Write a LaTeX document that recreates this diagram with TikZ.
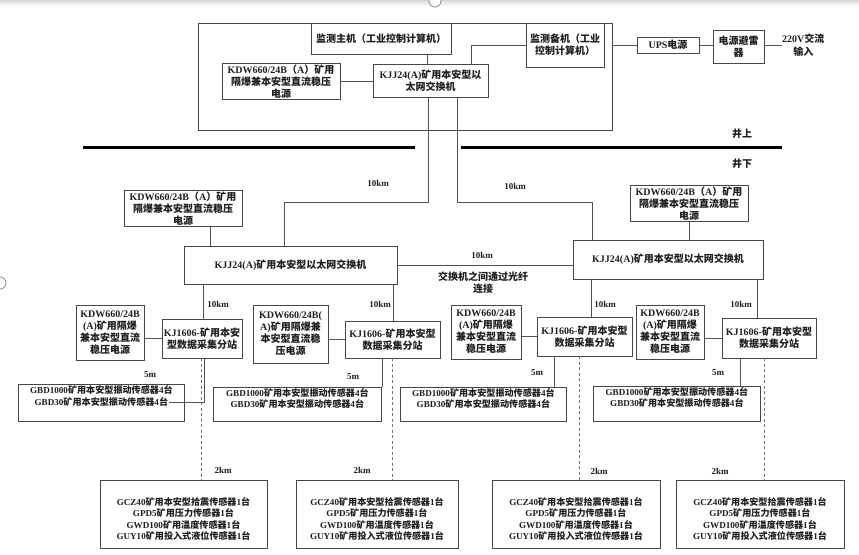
\documentclass[tikz,border=0pt]{standalone}
\usepackage{fontspec}
\setmainfont{Liberation Serif}
\newfontfamily\cjkfont{Noto Sans CJK SC}
\def\latsel{\rmfamily}
\def\cjksel{\cjkfont}
\XeTeXinterchartokenstate=1
\newXeTeXintercharclass\CJKcls
\makeatletter
\count@="3000
\loop\ifnum\count@<"3040 \XeTeXcharclass\count@=\CJKcls \advance\count@ 1 \repeat
\count@="4E00
\loop\ifnum\count@<"A000 \XeTeXcharclass\count@=\CJKcls \advance\count@ 1 \repeat
\count@="FF00
\loop\ifnum\count@<"FFF0 \XeTeXcharclass\count@=\CJKcls \advance\count@ 1 \repeat
\makeatother
\XeTeXinterchartoks 0 \CJKcls = {\cjksel}
\XeTeXinterchartoks 4095 \CJKcls = {\cjksel}
\XeTeXinterchartoks \CJKcls 0 = {\latsel}
\XeTeXinterchartoks 4095 0 = {\latsel}
\tikzset{
  box/.style={draw=black!72, line width=0.8pt, fill=white, inner sep=1pt, align=center,
    font=\fontsize{10}{12}\selectfont\bfseries, text=black!88},
  plainbox/.style={draw=black!72, line width=0.8pt, fill=white, inner sep=0pt},
  btxt/.style={inner sep=0pt, align=center, text=black!88,
    font=\fontsize{9.1}{11.6}\selectfont\bfseries},
  lbl/.style={inner sep=0pt, align=center, font=\fontsize{9}{12}\selectfont\bfseries, text=black!88},
  conn/.style={draw=black!68, line width=0.8pt},
  dconn/.style={draw=black!55, line width=0.8pt, dashed, dash pattern=on 3pt off 2.5pt},
  sep/.style={draw=black, line width=3pt},
}
\begin{document}
\begin{tikzpicture}[x=1pt,y=-1pt]
\useasboundingbox (0,0) rectangle (859,554);
\fill[white] (0,0) rectangle (859,554);
% screenshot edge and handles
\shade[top color=black!16, bottom color=white] (0,0) rectangle (859,6);
\draw[black!45, line width=0.8pt, fill=white] (435,1) circle (6);
\draw[black!45, line width=0.8pt, fill=white] (0,283) circle (6);

% ---- surface ----
\node[plainbox, minimum width=414, minimum height=107] (frame) at (405,76.5) {};
\node[box, minimum width=140, minimum height=31] (host) at (381,38.5) {监测主机（工业控制计算机）};
\node[box, minimum width=78, minimum height=44] (backup) at (565,45) {监测备机（工业\\控制计算机）};
\node[box, minimum width=118, minimum height=35] (topkdw) at (281,81.5) {KDW660/24B（A）矿用\\隔爆兼本安型直流稳压\\电源};
\node[box, minimum width=115, minimum height=33] (topkjj) at (430.5,80.5) {KJJ24(A)矿用本安型以\\太网交换机};
\node[box, minimum width=62, minimum height=16] (ups) at (668,45) {UPS电源};
\node[box, minimum width=51, minimum height=33] (spd) at (738.5,46.5) {电源避雷\\器};
\node[lbl, font=\fontsize{10}{13}\selectfont\bfseries, anchor=west] (acin) at (782,45) {220V交流\\输入};

\draw[conn] (host.south -| 427,0) -- (topkjj.north -| 427,0);
\draw[conn] (topkdw.east) -- (topkdw.east -| topkjj.west);
\draw[conn] (topkjj.north -| 471,0) |- (backup.west);
\draw[conn] (frame.east |- ups.west) -- (ups.west);
\draw[conn] (ups.east) -- (ups.east -| spd.west);
\draw[conn] (spd.east |- acin.west) -- (acin.west);

% ground line
\draw[sep] (83,147) -- (415,147);
\draw[sep] (461,147) -- (782,147);
\node[lbl, font=\fontsize{10}{12}\selectfont\bfseries] (up) at (742,134) {井上};
\node[lbl, font=\fontsize{10}{12}\selectfont\bfseries] (down) at (742,164) {井下};

% ---- underground switches ----
\node[box, minimum width=118, minimum height=35] (kdwL) at (183,208.5) {KDW660/24B（A）矿用\\隔爆兼本安型直流稳压\\电源};
\node[box, minimum width=213, minimum height=38] (kjjL) at (290.5,265) {KJJ24(A)矿用本安型以太网交换机};
\node[box, minimum width=118, minimum height=35] (kdwR) at (689,203.5) {KDW660/24B（A）矿用\\隔爆兼本安型直流稳压\\电源};
\node[box, minimum width=190, minimum height=39] (kjjR) at (668,259.5) {KJJ24(A)矿用本安型以太网交换机};

\coordinate (bL) at (284,202);
\coordinate (bR) at (592,202);
\draw[conn] (topkjj.south -| 428,0) |- (bL) -- (kjjL.north -| bL);
\draw[conn] (topkjj.south -| 457,0) |- (bR) -- (kjjR.north -| bR);
\draw[conn] (kdwL.south -| 210,0) -- (kjjL.north -| 210,0);
\draw[conn] (kdwR.south) -- (kdwR.south |- kjjR.north);
\draw[conn] (kjjL.east) -- (kjjL.east -| kjjR.west);

\node[lbl] (l1) at (378,183) {10km};
\node[lbl] (l2) at (515,186) {10km};
\node[lbl] (l3) at (482,255) {10km};
\node[lbl, font=\fontsize{10}{12}\selectfont\bfseries] (l4) at (483,283) {交换机之间通过光纤\\连接};

% ---- substations ----
\node[box, minimum width=68, minimum height=55] (kdw1) at (110,332.5) {KDW660/24B\\(A)矿用隔爆\\兼本安型直流\\稳压电源};
\node[box, minimum width=80, minimum height=39] (kj1) at (202,338.5) {KJ1606-矿用本安\\型数据采集分站};
\node[box, minimum width=75, minimum height=58] (kdw2) at (290.5,334) {KDW660/24B(\\A)矿用隔爆兼\\本安型直流稳\\压电源};
\node[box, minimum width=95, minimum height=37] (kj2) at (392.5,339.5) {KJ1606-矿用本安型\\数据采集分站};
\node[box, minimum width=70, minimum height=54] (kdw3) at (486,332) {KDW660/24B\\(A)矿用隔爆\\兼本安型直流\\稳压电源};
\node[box, minimum width=95, minimum height=39] (kj3) at (584.5,336.5) {KJ1606-矿用本安型\\数据采集分站};
\node[box, minimum width=68, minimum height=54] (kdw4) at (670,332) {KDW660/24B\\(A)矿用隔爆\\兼本安型直流\\稳压电源};
\node[box, minimum width=94, minimum height=40] (kj4) at (769,338) {KJ1606-矿用本安型\\数据采集分站};

\draw[conn] (kjjL.south -| 203,0) -- (kj1.north -| 203,0);
\draw[conn] (kjjL.south -| 393,0) -- (kj2.north -| 393,0);
\draw[conn] (kjjR.south -| 591,0) -- (kj3.north -| 591,0);
\draw[conn] (kjjR.south -| 757,0) -- (kj4.north -| 757,0);
\foreach \i in {1,2,3,4} { \draw[conn] (kdw\i.east |- kj\i.west) -- (kj\i.west); }

\node[lbl] (k1) at (218,304) {10km};
\node[lbl] (k2) at (380,304) {10km};
\node[lbl] (k3) at (605,304) {10km};
\node[lbl] (k4) at (741,304) {10km};

% ---- vibration sensors ----
\node[plainbox, minimum width=166, minimum height=37, anchor=north west] (gbd1) at (18,384) {};
\node[plainbox, minimum width=168, minimum height=34, anchor=north west] (gbd2) at (213,387) {};
\node[plainbox, minimum width=166, minimum height=34, anchor=north west] (gbd3) at (400,387) {};
\node[plainbox, minimum width=167, minimum height=35, anchor=north west] (gbd4) at (593,386) {};
\node[btxt, anchor=north] (t1) at ([yshift=-1.5pt]gbd1.north) {GBD1000矿用本安型振动传感器4台\\GBD30矿用本安型振动传感器4台};
\node[btxt, anchor=north] (t2) at ([yshift=-1pt]gbd2.north) {GBD1000矿用本安型振动传感器4台\\GBD30矿用本安型振动传感器4台};
\node[btxt, anchor=north] (t3) at ([yshift=-1pt]gbd3.north) {GBD1000矿用本安型振动传感器4台\\GBD30矿用本安型振动传感器4台};
\node[btxt, anchor=north] (t4) at ([yshift=-1pt]gbd4.north) {GBD1000矿用本安型振动传感器4台\\GBD30矿用本安型振动传感器4台};

\coordinate (g1end) at (169,402);
\draw[conn] (kj1.south -| 204,0) |- (g1end);
\draw[conn] (kj2.south -| 382,0) -- (gbd2.north -| 382,0);
\draw[conn] (kj3.south -| 554,0) -- (gbd3.north -| 554,0);
\draw[conn] (kj4.south -| 740,0) -- (gbd4.north -| 740,0);

\node[lbl] (m1) at (150,375) {5m};
\node[lbl] (m2) at (353,377) {5m};
\node[lbl] (m3) at (537,373) {5m};
\node[lbl] (m4) at (718,373) {5m};

% ---- other sensors ----
\node[plainbox, minimum width=167, minimum height=68] (bot1) at (183.5,514) {};
\node[plainbox, minimum width=162, minimum height=68] (bot2) at (377,514) {};
\node[plainbox, minimum width=168, minimum height=68] (bot3) at (576,514) {};
\node[plainbox, minimum width=168, minimum height=68] (bot4) at (760,514) {};
\foreach \i in {1,2,3,4} {
  \node[btxt] (s\i) at ([yshift=-5pt]bot\i.center) {GCZ40矿用本安型拾震传感器1台\\GPD5矿用压力传感器1台\\GWD100矿用温度传感器1台\\GUY10矿用投入式液位传感器1台};
}
\draw[dconn] (kj1.south -| 201,0) -- (bot1.north -| 201,0);
\draw[dconn] (kj2.south -| 392,0) -- (bot2.north -| 392,0);
\draw[dconn] (kj3.south -| 579,0) -- (bot3.north -| 579,0);
\draw[dconn] (kj4.south -| 764,0) -- (bot4.north -| 764,0);

\node[lbl] (d1) at (223,470) {2km};
\node[lbl] (d2) at (362,470) {2km};
\node[lbl] (d3) at (599,471) {2km};
\node[lbl] (d4) at (720,471) {2km};
\end{tikzpicture}
\end{document}
